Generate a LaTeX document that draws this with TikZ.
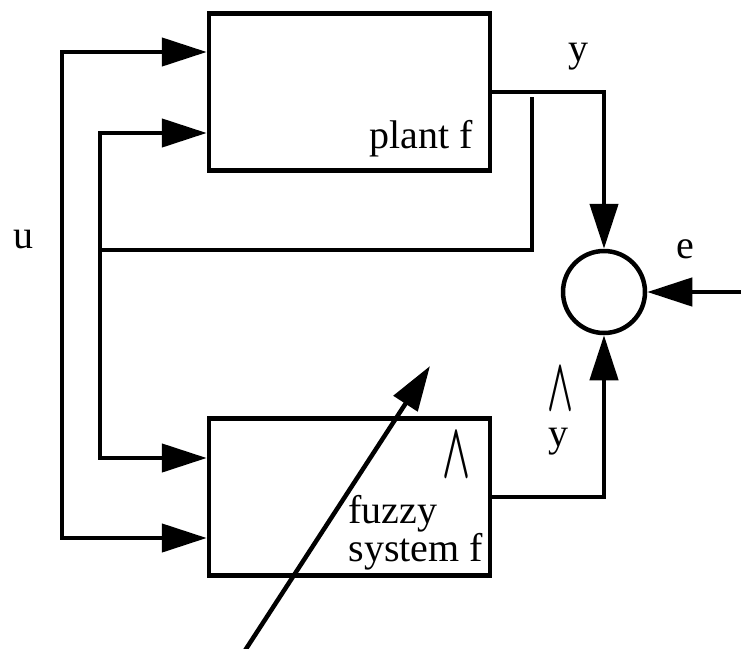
\documentclass[tikz,border=0pt]{standalone}
\usepackage{fontspec}
\setmainfont{Liberation Serif}
\usetikzlibrary{arrows.meta,calc}
\begin{document}
\begin{tikzpicture}[x=1pt,y=-1pt,
  every node/.style={font=\fontsize{40}{38}\selectfont},
  blk/.style={draw,line width=4.5pt,minimum width=281pt,minimum height=157pt,inner sep=0pt},
  sumc/.style={draw,circle,line width=4.5pt,minimum size=82pt,inner sep=0pt},
  ln/.style={line width=4.5pt},
  arr/.style={ln,-{Triangle[length=45pt,width=28pt]}},
  arrb/.style={ln,{Triangle[length=45pt,width=28pt]}-{Triangle[length=45pt,width=28pt]}},
  hat/.style={inner sep=0pt}
]
\useasboundingbox (0,0) rectangle (741,648);
\node[blk] (plant) at (349.5,92) {};
\node[blk] (fuzzy) at (349.5,497) {};
\node[sumc] (sum) at (604,292) {};
\coordinate (tap) at (532,97);
\coordinate (j1) at (100,250);
\coordinate (uL) at (62,300);
\coordinate (ein) at (745,292);
\coordinate (d0) at (244,652);
\coordinate (d1) at (430,366);
% plant output to summer
\draw[arr] (plant.east) -| (sum.north);
% fuzzy output to summer
\draw[arr] (fuzzy.east) -| (sum.south);
% error input
\draw[arr] (ein) -- (sum.east);
% tap of plant output feeding back
\draw[ln] (tap) |- (j1);
\draw[arrb] ([yshift=-41pt]plant.west) -| (j1) |- ([yshift=39pt]fuzzy.west);
% input u
\draw[arrb] ([yshift=40pt]plant.west) -| (uL) |- ([yshift=-41pt]fuzzy.west);
% adaptation arrow
\draw[arr] (d0) -- (d1);
% labels
\node[anchor=base] (ly) at (578,61) {y};
\node[anchor=base east] (lplant) at (476,148) {plant f};
\node[anchor=base] (lu) at (23,248) {u};
\node[anchor=base] (le) at (685,258) {e};
\node[hat] (hat1) at (560,389) {\resizebox{26pt}{42pt}{\boldmath$\wedge$}};
\node[anchor=base,inner sep=0pt,text height=17pt,text depth=9pt] (lyh) at (558,446) {y};
\node[hat] (hat2) at (456,455) {\resizebox{28pt}{44pt}{\boldmath$\wedge$}};
\node[anchor=base west,align=left] (lfuzzy) at (345,561) {fuzzy\\system f};
\end{tikzpicture}
\end{document}
